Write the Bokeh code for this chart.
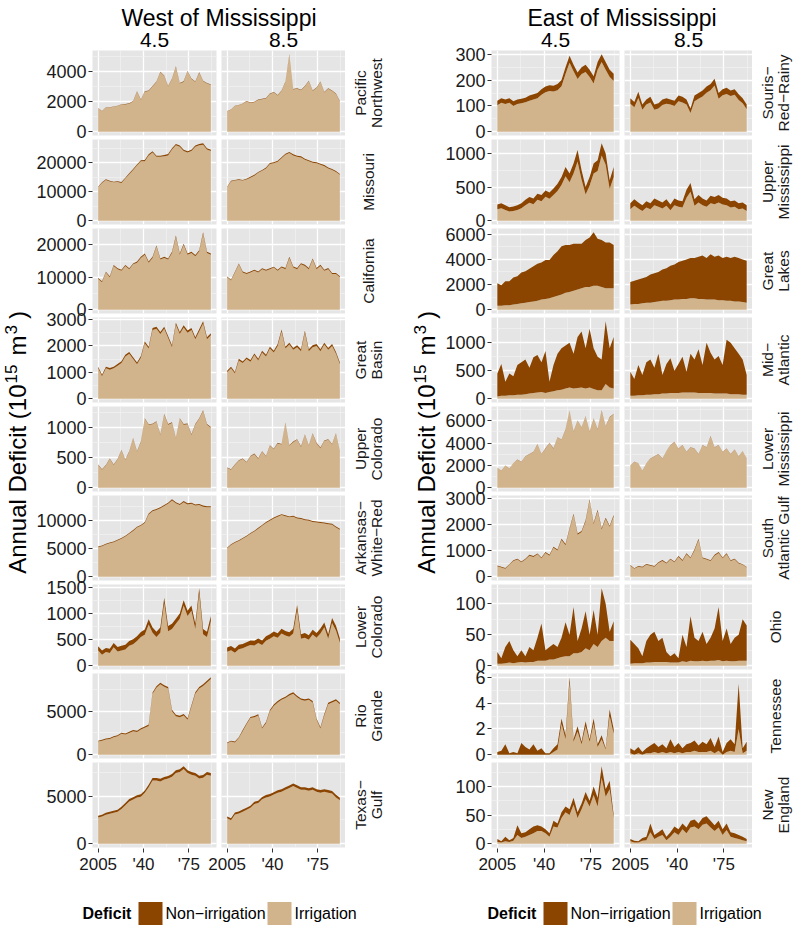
import math
from bokeh.plotting import figure
from bokeh.models import Range1d, FixedTicker, ColumnDataSource
from bokeh.layouts import row, column
from bokeh.embed import file_html
from bokeh.resources import INLINE
from bokeh.core.properties import value

FONT = "Liberation Sans"
TAN = "#D2B48C"
BROWN = "#8B4500"
PANEL_BG = "#E5E5E5"
MINOR_GRID = "#F2F2F2"
TXT = "#1A1A1A"

# ---------------- data ----------------
YEARS = [2005, 2008, 2011, 2014, 2017, 2020, 2023, 2026, 2029, 2032,
         2035, 2038, 2041, 2044, 2047, 2050, 2053, 2056, 2059, 2062,
         2065, 2068, 2071, 2074, 2077, 2080, 2083, 2086, 2089, 2092]
X_TICKS = [2005, 2040, 2075]
X_LABELS = ["2005", "'40", "'75"]
X_MINOR = [2022.5, 2057.5, 2092.5]
SCENARIOS = ["4.5", "8.5"]

# West of Mississippi
PNW_45_irr = [1550,1350,1600,1600,1650,1700,1800,1800,1850,2000,2650,2100,2650,2700,3000,3300,3950,3700,3000,3500,4300,3200,3300,4000,3500,3300,3900,3350,3200,3100]
PNW_45_non = [20,20,25,25,25,25,25,30,30,30,35,30,35,35,35,40,40,40,40,40,45,40,45,40,40,40,45,40,40,40]
PNW_85_irr = [1350,1450,1700,1750,1850,2000,1900,1950,2100,2150,2200,2500,2600,2400,2700,3300,5100,2800,2850,2750,3000,3350,2700,2900,3300,2600,2850,2700,2500,2000]
PNW_85_non = [20,20,25,25,25,30,30,30,30,30,30,35,35,35,35,40,40,35,35,35,35,40,35,35,40,35,35,35,35,30]

MO_45_irr = [11500,13000,14000,13500,13200,13300,13000,14500,16000,17500,19000,20500,20500,22500,23500,22000,22000,22200,22500,24500,26000,25500,24000,23500,24000,25500,26000,26200,24500,24000]
MO_45_non = [200,250,250,250,250,250,300,300,300,350,350,350,400,400,400,400,400,400,450,450,450,450,450,450,450,450,450,450,450,450]
MO_85_irr = [11500,13500,13800,14000,13800,14200,14800,15500,16500,17200,18000,19500,19800,20300,21500,22700,23300,22500,22000,21800,21000,20500,20000,19800,19300,18800,18000,17500,16800,15800]
MO_85_non = [200,250,250,250,250,250,300,300,300,300,350,350,350,350,400,400,400,400,400,400,350,350,350,350,350,350,350,350,300,300]

CA_45_irr = [9500,8500,11500,10000,13500,12500,12000,13500,12500,14000,14500,16000,17000,14500,16000,19500,15500,16000,15500,17500,22500,17000,20000,17000,17500,16500,18000,23500,17500,17000]
CA_45_non = [250,250,250,300,300,300,300,300,300,300,350,350,350,350,350,350,350,350,350,400,400,400,400,400,400,400,400,400,400,400]
CA_85_irr = [10000,9000,11500,14000,11500,11000,11500,12000,11500,12500,12000,12500,13000,12000,13000,12500,16000,13000,12500,14000,13500,12500,15500,12500,13500,12000,12500,11000,11000,10000]
CA_85_non = [250,250,250,300,300,300,300,300,300,300,300,300,300,300,350,350,350,350,350,350,350,350,350,350,350,350,350,350,350,350]

GB_45_irr = [1150,850,1150,1100,1150,1250,1350,1600,1700,1500,1300,1550,2100,1900,2600,2650,2450,2650,2300,1950,2800,2450,2700,2500,2600,2250,2550,2850,2250,2400]
GB_45_non = [60,60,60,60,60,60,65,65,65,65,70,70,70,70,75,75,75,75,75,75,80,80,80,80,80,80,80,80,80,80]
GB_85_irr = [1000,1150,950,1450,1350,1500,1400,1650,1450,1750,1600,1900,1750,2000,2550,1900,2050,1850,1950,1800,2500,1800,1950,2000,1800,2050,1850,2000,1700,1300]
GB_85_non = [60,60,60,60,60,60,65,65,65,65,65,65,70,70,70,70,70,70,70,70,70,70,70,70,70,70,70,70,70,70]

UC_45_irr = [380,300,370,480,380,470,620,460,600,820,600,760,1150,1050,1060,1100,880,1220,1050,1080,820,1150,1050,1060,880,1050,1150,1280,1050,1000]
UC_45_non = [8,8,8,8,8,8,10,10,10,10,10,10,10,10,10,12,12,12,12,12,12,12,12,12,12,12,12,12,12,12]
UC_85_irr = [330,300,380,450,480,420,520,560,480,600,520,700,640,740,720,1080,700,760,800,680,880,700,900,740,660,780,800,720,900,600]
UC_85_non = [8,8,8,8,8,8,8,10,10,10,10,10,10,10,10,10,10,10,10,10,10,10,10,10,10,10,10,10,10,10]

AWR_45_irr = [5200,5400,5700,5900,6100,6400,6700,7100,7600,8100,8700,9000,9500,11000,11600,11800,12100,12500,12900,13500,13000,12700,13200,12800,12900,12600,12700,12400,12300,12300]
AWR_45_non = [120,120,130,130,130,140,140,150,150,150,160,160,170,170,180,180,180,180,190,190,190,190,190,190,190,190,190,190,190,190]
AWR_85_irr = [5000,5600,6000,6300,6700,7100,7600,8000,8500,9000,9500,9900,10300,10600,10900,10700,10500,10600,10300,10200,10000,9900,9700,9600,9500,9400,9300,9200,8700,8300]
AWR_85_non = [120,120,130,130,130,140,140,150,150,150,160,160,160,170,170,170,170,170,170,170,170,170,170,170,170,170,170,170,170,170]

LC_45_irr = [290,210,260,240,350,270,290,310,380,410,470,550,590,790,630,550,630,1200,660,700,800,900,1150,950,1050,700,1380,600,550,850]
LC_45_non = [80,80,80,85,85,85,90,90,90,95,95,95,100,100,100,100,100,100,100,100,100,100,100,100,100,100,100,100,100,100]
LC_85_irr = [265,295,245,315,335,365,395,385,435,395,475,515,565,535,615,575,555,615,1065,515,535,495,595,535,615,735,515,815,675,435]
LC_85_non = [80,80,85,85,80,85,85,90,85,85,90,85,90,85,90,90,85,90,95,85,90,85,90,90,95,90,85,95,90,85]

RG_45_irr = [1500,1600,1750,1800,2000,2100,2400,2300,2500,2700,2600,2900,3100,3300,7000,7700,8100,7800,7600,5000,4400,4300,4500,4000,5500,7000,7600,7900,8300,8700]
RG_45_non = [100,100,110,110,120,120,120,130,130,130,140,140,140,150,150,160,160,160,160,170,170,170,170,170,180,180,180,180,180,180]
RG_85_irr = [1300,1500,1400,1900,2700,3500,4200,4300,4500,3000,3600,5000,5600,6000,6300,6500,6800,7000,6600,6300,6200,6300,6000,4000,3000,4500,5800,6000,6200,5800]
RG_85_non = [100,100,110,110,120,120,130,130,130,130,140,140,150,150,150,160,160,160,160,160,160,160,160,160,160,160,160,160,160,160]

TG_45_irr = [2750,2850,3050,3150,3250,3350,3650,4050,4450,4650,4850,4950,5350,5950,6650,6650,6550,6750,6850,7050,7450,7550,7850,7450,7250,7150,6850,6950,7250,7150]
TG_45_non = [200,200,210,210,220,220,230,230,240,240,250,250,260,260,270,270,280,280,280,280,290,290,290,290,290,290,290,290,290,290]
TG_85_irr = [2670,2470,3070,3170,3370,3570,3770,4170,4270,4670,4870,4970,5170,5370,5470,5670,5870,6070,5870,5670,5670,5570,5670,5470,5370,5470,5370,5270,4870,4570]
TG_85_non = [200,200,210,210,220,220,230,230,240,240,250,250,250,260,260,260,260,270,270,270,270,270,270,270,270,270,270,270,270,270]

# East of Mississippi
SRR_45_irr = [102,112,107,112,100,107,110,114,120,125,130,143,153,158,156,161,176,224,267,234,204,224,232,212,187,240,270,240,212,197]
SRR_45_non = [18,18,18,18,18,18,18,18,20,20,20,22,22,22,22,24,24,26,28,26,26,26,28,28,28,30,30,30,28,28]
SRR_85_irr = [108,95,131,85,105,113,85,90,103,108,105,100,118,113,105,72,118,128,136,151,161,179,128,141,146,138,143,123,110,87]
SRR_85_non = [22,20,24,20,20,22,20,20,22,22,20,20,22,22,20,18,22,22,24,24,24,26,22,24,24,22,22,22,20,18]

UM_45_irr = [170,185,160,135,145,160,185,230,265,245,310,290,355,325,380,440,530,660,570,700,880,610,390,520,700,740,970,830,470,650]
UM_45_non = [70,75,70,65,65,70,75,80,85,85,90,90,95,95,100,110,120,140,130,150,170,140,110,130,150,160,180,170,130,150]
UM_85_irr = [170,220,180,145,195,170,230,205,180,220,155,230,205,195,340,430,220,270,230,205,260,245,270,240,230,195,205,170,180,145]
UM_85_non = [90,100,90,85,95,90,100,95,90,100,85,100,95,95,120,130,100,110,100,95,110,105,110,100,100,95,95,90,90,85]

GL_45_irr = [300,300,350,350,400,450,500,550,600,650,700,800,850,900,1000,1100,1200,1350,1400,1500,1600,1700,1800,1800,1900,1900,1800,1700,1700,1700]
GL_45_non = [1800,1650,1900,1900,2150,2200,2450,2500,2650,2800,2950,2950,3100,3050,3350,3550,3850,3800,3750,3750,3650,3550,3750,3950,4250,3750,3750,3650,3650,3450]
GL_85_irr = [400,450,450,500,550,550,600,650,700,700,750,800,800,850,850,900,900,850,850,800,800,800,750,750,700,700,650,650,600,550]
GL_85_non = [1800,1850,1950,2000,2050,2250,2300,2350,2500,2600,2750,2800,3000,3050,3150,3200,3200,3350,3450,3300,3600,3400,3550,3350,3500,3400,3550,3450,3400,3350]

MA_45_irr = [40,50,50,60,60,70,70,80,90,100,110,120,100,120,130,150,160,180,200,180,190,200,180,200,170,150,150,260,200,180]
MA_45_non = [410,570,250,390,340,530,580,620,460,640,670,530,750,180,470,650,740,770,800,620,910,1000,720,1050,730,600,550,1120,700,920]
MA_85_irr = [50,50,60,60,70,70,80,80,90,90,100,100,100,110,110,110,110,100,100,100,100,90,90,90,90,80,80,80,70,70]
MA_85_non = [430,300,540,360,580,630,470,720,330,530,620,400,520,640,370,690,590,780,500,900,720,610,670,510,960,920,820,720,630,350]

LM_45_irr = [1800,1500,2000,1700,2200,2500,2300,2800,3000,3200,3900,3000,3500,4000,3500,4500,4300,5200,6900,5000,6000,5400,6400,5000,6200,5200,6900,5500,6300,6600]
LM_45_non = [15,15,15,15,20,20,20,20,20,25,25,25,25,25,25,30,30,30,30,30,30,30,35,35,35,35,35,35,35,35]
LM_85_irr = [2000,2300,2200,1500,2200,2600,2800,3000,2600,3300,3800,4100,3500,3800,3200,3600,3500,3000,3800,3600,4600,3600,3800,3200,3500,3000,3400,2800,3300,2600]
LM_85_non = [15,15,15,15,15,20,20,20,20,20,20,25,20,20,20,20,20,20,20,20,25,20,20,20,20,20,20,20,20,20]

SAG_45_irr = [400,350,300,450,600,650,550,650,800,750,850,700,900,800,1100,1000,1400,1200,1800,2350,1600,1700,2100,2900,2000,2500,1800,2200,1900,2300]
SAG_45_non = [25,25,25,25,30,30,30,30,35,35,35,35,40,40,40,40,45,45,45,50,45,45,50,50,50,50,45,50,45,50]
SAG_85_irr = [420,300,380,350,450,420,380,520,600,500,650,550,750,600,850,700,1000,1400,700,650,600,800,900,700,850,600,650,500,450,350]
SAG_85_non = [25,20,25,25,30,25,25,30,35,30,35,30,40,35,40,35,45,45,35,35,30,40,40,35,40,30,35,30,25,20]

OH_45_irr = [3,3,4,5,4,5,6,5,6,6,8,8,8,10,10,12,14,15,15,20,20,22,28,25,35,30,40,45,40,40]
OH_45_non = [19,9,26,35,21,10,19,10,24,19,37,60,17,20,25,18,31,55,35,75,20,38,60,25,55,20,85,55,15,32]
OH_85_irr = [3,4,4,4,5,5,6,6,6,6,5,5,5,7,6,8,7,7,8,7,8,8,9,7,8,7,7,8,8,8]
OH_85_non = [39,31,24,11,35,45,49,34,39,16,10,15,7,43,24,72,38,33,47,28,37,52,86,33,52,28,38,42,67,57]

TN_45_irr = [0.0,0.0,0.0,0.0,0.0,0.0,0.0,0.0,0.0,0.0,0.0,0.0,0.0,0.0,0.2,0.4,2.4,1.2,5.6,1.0,1.8,0.8,2.2,1.0,2.4,0.6,1.2,0.4,3.0,1.6]
TN_45_non = [0.2,0.3,0.8,0.1,0.2,0.1,0.9,0.6,0.4,0.8,0.3,0.5,0.1,0.1,0.3,0.4,0.4,0.3,0.4,0.2,0.4,0.2,0.4,0.2,0.4,0.2,0.3,0.1,0.5,0.4]
TN_85_irr = [0.1,0.0,0.1,0.0,0.1,0.1,0.2,0.1,0.2,0.1,0.2,0.1,0.2,0.1,0.2,0.2,0.3,0.2,0.2,0.2,0.3,0.1,0.3,0.0,0.2,0.3,0.2,2.0,0.1,0.3]
TN_85_non = [0.4,0.3,0.5,0.2,0.4,0.6,0.7,0.5,0.6,0.4,1.0,0.5,0.7,0.4,0.6,0.7,0.8,0.5,0.8,0.6,1.0,0.5,1.1,0.2,0.7,0.9,0.6,3.5,0.4,0.7]

NE_45_irr = [3,2,4,3,5,15,10,12,15,18,22,22,18,12,30,28,45,55,50,68,45,60,78,65,85,65,115,82,95,45]
NE_45_non = [5,2,8,3,5,17,8,8,10,12,10,8,7,6,10,7,10,10,10,12,10,10,12,10,15,15,20,13,15,5]
NE_85_irr = [4,2,2,5,6,20,8,12,15,6,12,20,15,25,18,28,30,25,33,35,28,22,28,15,24,12,10,8,6,4]
NE_85_non = [4,3,2,5,6,15,7,8,10,6,8,10,10,10,10,12,12,10,12,13,12,10,12,10,11,8,8,7,6,4]

WEST_REGIONS = ["Pacific\nNorthwest", "Missouri", "California", "Great\nBasin", "Upper\nColorado",
                "Arkansas\u2212\nWhite\u2212Red", "Lower\nColorado", "Rio\nGrande", "Texas\u2212\nGulf"]
WEST_TICKS = [[0, 2000, 4000], [0, 10000, 20000], [0, 10000, 20000], [0, 1000, 2000, 3000],
              [0, 500, 1000], [0, 5000, 10000], [0, 500, 1000, 1500], [0, 5000], [0, 5000]]
EAST_REGIONS = ["Souris\u2212\nRed\u2212Rainy", "Upper\nMississippi", "Great\nLakes", "Mid\u2212\nAtlantic",
                "Lower\nMississippi", "South\nAtlantic Gulf", "Ohio", "Tennessee", "New\nEngland"]
EAST_TICKS = [[0, 100, 200, 300], [0, 500, 1000], [0, 2000, 4000, 6000], [0, 500, 1000],
              [0, 2000, 4000, 6000], [0, 1000, 2000, 3000], [0, 50, 100], [0, 2, 4, 6], [0, 50, 100]]

WEST_DATA = [(PNW_45_irr, PNW_45_non, PNW_85_irr, PNW_85_non),
             (MO_45_irr, MO_45_non, MO_85_irr, MO_85_non),
             (CA_45_irr, CA_45_non, CA_85_irr, CA_85_non),
             (GB_45_irr, GB_45_non, GB_85_irr, GB_85_non),
             (UC_45_irr, UC_45_non, UC_85_irr, UC_85_non),
             (AWR_45_irr, AWR_45_non, AWR_85_irr, AWR_85_non),
             (LC_45_irr, LC_45_non, LC_85_irr, LC_85_non),
             (RG_45_irr, RG_45_non, RG_85_irr, RG_85_non),
             (TG_45_irr, TG_45_non, TG_85_irr, TG_85_non)]
EAST_DATA = [(SRR_45_irr, SRR_45_non, SRR_85_irr, SRR_85_non),
             (UM_45_irr, UM_45_non, UM_85_irr, UM_85_non),
             (GL_45_irr, GL_45_non, GL_85_irr, GL_85_non),
             (MA_45_irr, MA_45_non, MA_85_irr, MA_85_non),
             (LM_45_irr, LM_45_non, LM_85_irr, LM_85_non),
             (SAG_45_irr, SAG_45_non, SAG_85_irr, SAG_85_non),
             (OH_45_irr, OH_45_non, OH_85_irr, OH_85_non),
             (TN_45_irr, TN_45_non, TN_85_irr, TN_85_non),
             (NE_45_irr, NE_45_non, NE_85_irr, NE_85_non)]

# ---------------- layout constants ----------------
SPAN = YEARS[-1] - YEARS[0]
X0 = YEARS[0] - 0.05 * SPAN
X1 = YEARS[-1] + 0.05 * SPAN
FH = 85          # panel frame height
ROW_PITCH = 89   # frame height + 4 px gap
OVER = 10        # panels overlap neighbours by this much (transparent borders)
HEAD_FLOW = 48
HEAD_H = 56      # header canvas, its last 8 px lie under the first row of panels
AXIS_BOTTOM = 32
LEGEND_H = 50
GAP = 5


def base_fig(**kw):
    p = figure(output_backend="svg", toolbar_location=None, frame_align=False, **kw)
    p.outline_line_color = None
    return p


def blank_fig(w, h, **kw):
    p = base_fig(width=w, height=h, x_range=Range1d(0, w), y_range=Range1d(0, h),
                 x_axis_location=None, y_axis_location=None,
                 min_border_left=0, min_border_right=0, min_border_top=0, min_border_bottom=0, **kw)
    p.background_fill_color = None
    p.border_fill_color = None
    p.xgrid.visible = False
    p.ygrid.visible = False
    return p


def panel(irr, non, yr, ticks, frame_w, left, right, with_axis):
    p = base_fig(frame_width=frame_w, frame_height=FH, x_range=Range1d(X0, X1), y_range=yr,
                 x_axis_location=None, y_axis_location="left" if with_axis else None,
                 min_border_left=left, min_border_right=right,
                 min_border_top=OVER + 2, min_border_bottom=OVER + 2,
                 margin=(-OVER, 0, -OVER, 0))
    p.background_fill_color = PANEL_BG
    p.border_fill_color = None
    src = ColumnDataSource(dict(year=YEARS, irr=irr, non=non))
    p.varea_stack(["irr", "non"], x="year", color=[TAN, BROWN], source=src)
    step = ticks[1] - ticks[0]
    yminor = [t + step / 2 for t in ticks]
    p.ygrid.ticker = FixedTicker(ticks=ticks, minor_ticks=yminor)
    p.xgrid.ticker = FixedTicker(ticks=X_TICKS, minor_ticks=X_MINOR)
    for g in (p.xgrid, p.ygrid):
        g.grid_line_color = "white"
        g.grid_line_width = 1.3
        g.minor_grid_line_color = MINOR_GRID
        g.minor_grid_line_width = 0.7
    if with_axis:
        ax = p.yaxis[0]
        ax.ticker = FixedTicker(ticks=ticks)
        ax.axis_line_color = None
        ax.major_tick_line_color = "#333333"
        ax.major_tick_out = 4
        ax.major_tick_in = 0
        ax.minor_tick_line_color = None
        ax.major_label_standoff = 2
        ax.major_label_text_font = FONT
        ax.major_label_text_font_size = "18px"
        ax.major_label_text_color = TXT
    return p


def ylab_fig(w, h, xc, yc):
    """Rotated axis title; xc is the centre line of the main text, superscripts sit 6.6 px higher."""
    p = blank_fig(w, h)
    pieces = [("Annual Deficit (10", 24, False, 7.892, 0),
              ("15", 17, True, 1.112, 1),
              ("m", 24, False, 0.833, 9),
              ("3", 17, True, 0.556, 1),
              (")", 24, False, 0.333, 6)]
    total = sum(wd * sz + g for _, sz, _, wd, g in pieces)
    pos = yc - total / 2
    for txt, sz, sup, wd, g in pieces:
        pos += g
        p.text(x=[xc - (6.6 if sup else 0)], y=[pos], text=[txt], angle=math.pi / 2,
               text_align="left", text_baseline="middle",
               text_font=value(FONT), text_font_size=f"{sz}px", text_color="black")
        pos += wd * sz
    return p


def strip_fig(w, h, regions, xc):
    p = blank_fig(w, h)
    ys = [h - (2 + ROW_PITCH * i + FH / 2) for i in range(len(regions))]
    p.text(x=[xc] * len(regions), y=ys, text=regions, angle=math.pi / 2,
           text_align="center", text_baseline="middle", text_line_height=0.9,
           text_font=value(FONT), text_font_size="15.5px", text_color=TXT)
    return p


def xaxis_fig(left, frame_w, right):
    span = 2 * frame_w + GAP
    per = (X1 - X0) / frame_w
    shift = (frame_w + GAP) * per
    p = base_fig(frame_width=span, frame_height=1, x_range=Range1d(X0, X0 + span * per),
                 y_range=Range1d(0, 1), y_axis_location=None,
                 min_border_left=left, min_border_right=right,
                 min_border_top=0, min_border_bottom=AXIS_BOTTOM, margin=(-2, 0, 0, 0))
    p.background_fill_color = None
    p.border_fill_color = None
    p.xgrid.visible = False
    p.ygrid.visible = False
    ticks = X_TICKS + [t + shift for t in X_TICKS]
    ax = p.xaxis[0]
    ax.ticker = FixedTicker(ticks=ticks)
    ax.major_label_overrides = {t: lab for t, lab in zip(ticks, X_LABELS * 2)}
    ax.axis_line_color = None
    ax.major_tick_line_color = "#333333"
    ax.major_tick_out = 4
    ax.major_tick_in = 0
    ax.minor_tick_line_color = None
    ax.major_label_standoff = 2
    ax.major_label_text_font = FONT
    ax.major_label_text_font_size = "17px"
    ax.major_label_text_color = TXT
    return p


def half(title, regions, tick_sets, data, ylab_w, border_left, frame_w, strip_w,
         strip_xc, ylab_xc, legend_x0):
    W = ylab_w + border_left + frame_w + GAP + frame_w + strip_w
    c1 = ylab_w + border_left + frame_w / 2
    c2 = ylab_w + border_left + frame_w + GAP + frame_w / 2
    head = blank_fig(W, HEAD_H, margin=(0, 0, HEAD_FLOW - HEAD_H, 0))
    head.text(x=[(c1 + c2) / 2], y=[HEAD_H - 17], text=[title], text_font=value(FONT),
              text_font_size="23px", text_align="center", text_baseline="middle", text_color="black")
    head.text(x=[c1, c2], y=[HEAD_H - 39.5] * 2, text=SCENARIOS, text_font=value(FONT),
              text_font_size="21px", text_align="center", text_baseline="middle", text_color="black")

    left_col, right_col = [], []
    for ticks, (i45, n45, i85, n85) in zip(tick_sets, data):
        top = max(max(a + b for a, b in zip(i45, n45)), max(a + b for a, b in zip(i85, n85)))
        yr = Range1d(-0.05 * top, 1.05 * top)
        left_col.append(panel(i45, n45, yr, ticks, frame_w, border_left, GAP, True))
        right_col.append(panel(i85, n85, yr, ticks, frame_w, 0, 0, False))
    body_h = len(regions) * ROW_PITCH
    ylab = ylab_fig(ylab_w, body_h, ylab_xc, body_h - 394)
    strips = strip_fig(strip_w, body_h, regions, strip_xc)
    body = row(ylab, column(*left_col), column(*right_col), strips)

    axis = xaxis_fig(ylab_w + border_left, frame_w, strip_w)

    leg = blank_fig(W, LEGEND_H)
    x0 = legend_x0
    ly = LEGEND_H - 33
    leg.text(x=[x0], y=[ly], text=["Deficit"], text_font=value(FONT), text_font_size="16px",
             text_font_style="bold", text_align="left", text_baseline="middle", text_color="black")
    leg.rect(x=[x0 + 68, x0 + 197], y=[ly, ly], width=24, height=23,
             fill_color=[BROWN, TAN], line_color=None)
    leg.text(x=[x0 + 83, x0 + 212], y=[ly, ly], text=["Non\u2212irrigation", "Irrigation"],
             text_font=value(FONT), text_font_size="16px", text_align="left",
             text_baseline="middle", text_color="black")
    return column(head, body, axis, leg)


west = half("West of Mississippi", WEST_REGIONS, WEST_TICKS, WEST_DATA,
            ylab_w=32, border_left=60, frame_w=124, strip_w=53, strip_xc=23,
            ylab_xc=17, legend_x0=82)
east = half("East of Mississippi", EAST_REGIONS, EAST_TICKS, EAST_DATA,
            ylab_w=43, border_left=50, frame_w=128, strip_w=44, strip_xc=23,
            ylab_xc=28, legend_x0=89)

p = row(west, east)
open("out.html", "w").write(file_html(p, INLINE))
